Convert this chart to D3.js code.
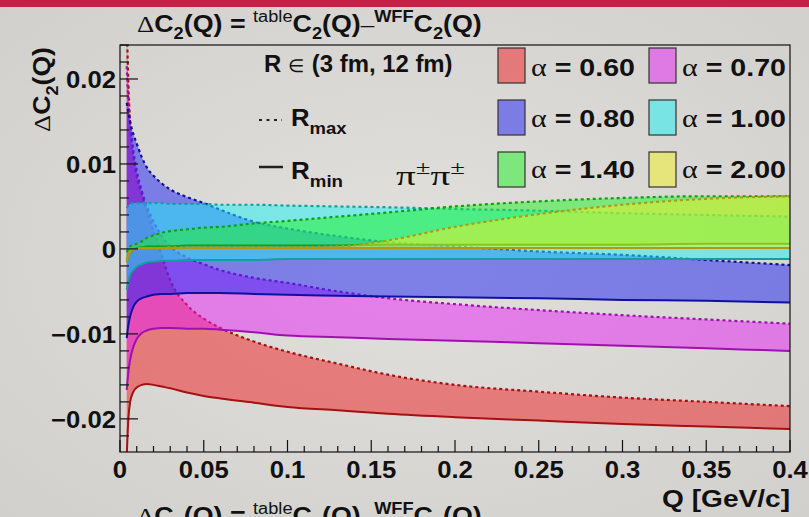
<!DOCTYPE html>
<html><head><meta charset="utf-8">
<script src="https://cdn.jsdelivr.net/npm/d3@7"></script>
<style>html,body{margin:0;padding:0;overflow:hidden;background:#dcdad6}</style>
</head><body><svg id="c" width="809" height="517"></svg>
<script>
// ---------------- data ----------------
const Q = [0.004,0.005,0.006,0.008,0.01,0.013,0.016,0.02,0.025,0.03,0.04,0.05,0.06,0.08,0.1,0.13,0.16,0.2,0.25,0.3,0.35,0.4];
const alphaLabels = ["0.60","0.70","0.80","1.00","1.40","2.00"];
// R_min (solid) and R_max (dashed) curves for each alpha
const rMin060 = [-0.0245,-0.0200,-0.0181,-0.0168,-0.0163,-0.0160,-0.0159,-0.0160,-0.0162,-0.0164,-0.0169,-0.0173,-0.0176,-0.0181,-0.0186,-0.0190,-0.0194,-0.0198,-0.0202,-0.0206,-0.0209,-0.0212];
const rMax060 = [0.0270,0.0195,0.0150,0.0108,0.0085,0.0064,0.0045,0.0021,-0.0008,-0.0037,-0.0066,-0.0082,-0.0093,-0.0109,-0.0121,-0.0135,-0.0148,-0.0160,-0.0168,-0.0175,-0.0180,-0.0185];
const rMin070 = [-0.0166,-0.0145,-0.0131,-0.0115,-0.0106,-0.0099,-0.0096,-0.0094,-0.0093,-0.0093,-0.0094,-0.0094,-0.0095,-0.0098,-0.0102,-0.0104,-0.0106,-0.0108,-0.0111,-0.0114,-0.0117,-0.0120];
const rMax070 = [0.0215,0.0175,0.0150,0.0115,0.0092,0.0068,0.0050,0.0032,0.0015,0.0003,-0.0010,-0.0018,-0.0025,-0.0034,-0.0040,-0.0050,-0.0058,-0.0065,-0.0072,-0.0078,-0.0083,-0.0088];
const rMin080 = [-0.0105,-0.0090,-0.0080,-0.0068,-0.0062,-0.0058,-0.0056,-0.0054,-0.0053,-0.0053,-0.0052,-0.0052,-0.0052,-0.0053,-0.0054,-0.0055,-0.0056,-0.0057,-0.0058,-0.0060,-0.0061,-0.0063];
const rMax080 = [0.0172,0.0160,0.0150,0.0135,0.0124,0.0108,0.0096,0.0086,0.0077,0.0070,0.0061,0.0054,0.0046,0.0032,0.0024,0.0015,0.0008,0.0003,-0.0003,-0.0007,-0.0013,-0.0019];
const rMin100 = [-0.0048,-0.0038,-0.0031,-0.0025,-0.0021,-0.0018,-0.0016,-0.0015,-0.0014,-0.0014,-0.0013,-0.0013,-0.0013,-0.0013,-0.0012,-0.0012,-0.0012,-0.0012,-0.0012,-0.0012,-0.0012,-0.0012];
const rMax100 = [0.0048,0.0051,0.0053,0.0054,0.0054,0.0054,0.0054,0.0054,0.0054,0.0053,0.0053,0.0053,0.0052,0.0052,0.0051,0.0050,0.0049,0.0047,0.0045,0.0042,0.0040,0.0038];
const rMin140 = [-0.0015,-0.0008,-0.0004,-0.0001,0.0001,0.0002,0.0003,0.0003,0.0003,0.0003,0.0004,0.0004,0.0004,0.0004,0.0004,0.0004,0.0005,0.0005,0.0005,0.0005,0.0006,0.0006];
const rMax140 = [-0.0004,0.0000,0.0003,0.0005,0.0006,0.0009,0.0013,0.0016,0.0019,0.0021,0.0023,0.0025,0.0026,0.0030,0.0033,0.0038,0.0043,0.0050,0.0056,0.0060,0.0062,0.0062];
const rMin200 = [-0.0015,-0.0008,-0.0004,-0.0001,0.0000,0.0001,0.0001,0.0001,0.0001,0.0001,0.0001,0.0001,0.0001,0.0001,0.0001,0.0001,0.0001,0.0001,0.0001,0.0001,0.0001,0.0001];
const rMax200 = [-0.0013,-0.0006,-0.0002,0.0000,0.0001,0.0001,0.0001,0.0001,0.0001,0.0002,0.0002,0.0002,0.0002,0.0002,0.0002,0.0003,0.0010,0.0026,0.0041,0.0052,0.0059,0.0062];
const xTickLabels = ["0","0.05","0.1","0.15","0.2","0.25","0.3","0.35","0.4"];
const yTickLabels = ["\u22120.02","\u22120.01","0","0.01","0.02"];

const fillColors = ["#f01c20","#e81ef6","#1e20f6","#1af2f6","#1ef224","#f0f224"];
const lineColors = ["#a51010","#a010b0","#10109e","#10a0a0","#10a010","#b09a10"];
const mins = [rMin060,rMin070,rMin080,rMin100,rMin140,rMin200];
const maxs = [rMax060,rMax070,rMax080,rMax100,rMax140,rMax200];

// ---------------- setup ----------------
const SANS = "Liberation Sans, Arial, Helvetica, sans-serif";
const SERIF = "Liberation Serif, Times New Roman, serif";
const svg = d3.select("#c");
const defs = svg.append("defs");
const rg = defs.append("radialGradient").attr("id","bg").attr("cx","50%").attr("cy","50%").attr("r","70%");
rg.append("stop").attr("offset","0%").attr("stop-color","#e2e0dc");
rg.append("stop").attr("offset","100%").attr("stop-color","#d2d0cc");
svg.append("rect").attr("width",809).attr("height",517).attr("fill","url(#bg)");
svg.append("rect").attr("width",809).attr("height",7).attr("fill","#be2348");

const X0=120, X1=790, Y0=452, Y1=45;
const x = d3.scaleLinear().domain([0,0.4]).range([X0,X1]);
const y = d3.scaleLinear().domain([-0.0239,0.024]).range([Y0,Y1]);

defs.append("clipPath").attr("id","clip").append("rect").attr("x",X0).attr("y",Y1).attr("width",X1-X0).attr("height",Y0-Y1);
const plot = svg.append("g").attr("clip-path","url(#clip)");

alphaLabels.forEach((a,k)=>{
  const lo = mins[k], hi = maxs[k];
  const area = d3.area().curve(d3.curveMonotoneX).x((d,i)=>x(Q[i])).y0((d,i)=>y(lo[i])).y1((d,i)=>y(hi[i]));
  const line = arr => d3.line().curve(d3.curveMonotoneX).x((d,i)=>x(Q[i])).y(d=>y(d))(arr);
  plot.append("path").attr("d",area(Q)).attr("fill",fillColors[k]).attr("fill-opacity",0.5);
  plot.append("path").attr("d",line(lo)).attr("fill","none").attr("stroke",lineColors[k]).attr("stroke-width",2);
  plot.append("path").attr("d",line(hi)).attr("fill","none").attr("stroke",lineColors[k]).attr("stroke-width",2.2).attr("stroke-dasharray","3,3");
});

// frame
svg.append("rect").attr("x",X0).attr("y",Y1).attr("width",X1-X0).attr("height",Y0-Y1).attr("fill","none").attr("stroke","#111").attr("stroke-width",1.2);

// axes ticks
const ax = svg.append("g").attr("stroke","#111").attr("stroke-width",1.2);
d3.range(0,41).forEach(i=>{
  const v=i*0.01, L = (i%5===0)?12:6;
  ax.append("line").attr("x1",x(v)).attr("x2",x(v)).attr("y1",Y0).attr("y2",Y0-L);
});
d3.range(-11,13).forEach(i=>{
  const v=i*0.002; if (y(v)<Y1-0.5||y(v)>Y0+0.5) return;
  const L = (i%5===0)?18:9;
  ax.append("line").attr("x1",X0).attr("x2",X0+L).attr("y1",y(v)).attr("y2",y(v));
});

// rich text helper
function rich(parent, px, py, parts, size, opts={}) {
  const g = parent.append("g");
  const t = g.append("text").attr("font-size",size).attr("text-anchor",opts.anchor||"start")
    .attr("font-family",SANS).attr("font-weight","bold").attr("fill","#111");
  let cur=0;
  for (const p of parts) {
    const off = p.sub ? size*0.32 : p.sup ? -size*0.42 : 0;
    const s = t.append("tspan").text(p.t);
    if (off-cur!==0) s.attr("dy",off-cur);
    cur=off;
    if (p.sub||p.sup) s.attr("font-size",size*(p.fs||0.68));
    else if (p.fs) s.attr("font-size",size*p.fs);
    if (p.serif) s.attr("font-family",SERIF).attr("font-weight","normal");
    if (p.normal) s.attr("font-weight","normal");
  }
  let sx = opts.sx||1;
  if (opts.w) sx = opts.w / t.node().getBBox().width;
  g.attr("transform",`translate(${px},${py}) ${opts.rot!==undefined?`rotate(${opts.rot})`:""} scale(${sx},1)`);
  return sx;
}

// tick labels
const sxTick = 1.07;
xTickLabels.forEach((s,i)=>rich(svg, x(i*0.05), 478, [{t:s}], 24, {anchor:"middle", sx:sxTick}));
yTickLabels.forEach((s,i)=>rich(svg, 116, y((i-2)*0.01)+9, [{t:s}], 24, {anchor:"end", sx:sxTick}));

// titles
const titleParts = [{t:"\u0394",serif:true},{t:"C"},{t:"2",sub:true},{t:"(Q) = "},{t:"table",sup:true,normal:true},{t:"C"},{t:"2",sub:true},{t:"(Q)"},{t:"\u2013",serif:true},{t:"WFF",sup:true},{t:"C"},{t:"2",sub:true},{t:"(Q)"}];
rich(svg, 137, 32, titleParts, 23, {w:345});
rich(svg, 137, 524, titleParts, 23, {w:345});
rich(svg, 50, 47, [{t:"\u0394",serif:true},{t:"C"},{t:"2",sub:true},{t:"(Q)"}], 24, {anchor:"end", rot:-90, w:85});
rich(svg, 790, 507, [{t:"Q [GeV/c]"}], 24, {anchor:"end", w:128});

// legend
rich(svg, 264, 72, [{t:"R "},{t:"\u2208",serif:true,fs:0.8},{t:" (3 fm, 12 fm)"}], 23, {w:188});
svg.append("line").attr("x1",259).attr("x2",282).attr("y1",120).attr("y2",120).attr("stroke","#222").attr("stroke-width",2).attr("stroke-dasharray","3,4.5");
rich(svg, 291, 126, [{t:"R"},{t:"max",sub:true,fs:0.72}], 24, {w:56});
svg.append("line").attr("x1",259).attr("x2",283).attr("y1",167).attr("y2",167).attr("stroke","#222").attr("stroke-width",2.5);
rich(svg, 291, 179, [{t:"R"},{t:"min",sub:true,fs:0.72}], 24, {w:52});
rich(svg, 396, 185, [{t:"\u03C0",serif:true},{t:"\u00B1",sup:true,serif:true},{t:"\u03C0",serif:true},{t:"\u00B1",sup:true,serif:true}], 27, {w:69});

const boxX = [498,649], boxY = [48,100,152], txtY = [76,127,178];
alphaLabels.forEach((a,k)=>{
  const col = k%2, row = Math.floor(k/2);
  svg.append("rect").attr("x",boxX[col]).attr("y",boxY[row]).attr("width",27).attr("height",35)
    .attr("fill",fillColors[k]).attr("fill-opacity",0.5).attr("stroke","#333").attr("stroke-width",1.2);
  rich(svg, boxX[col]+33, txtY[row], [{t:"\u03B1",serif:true,fs:1.05},{t:" = "+a}], 24, {w:104});
});
</script></body></html>
